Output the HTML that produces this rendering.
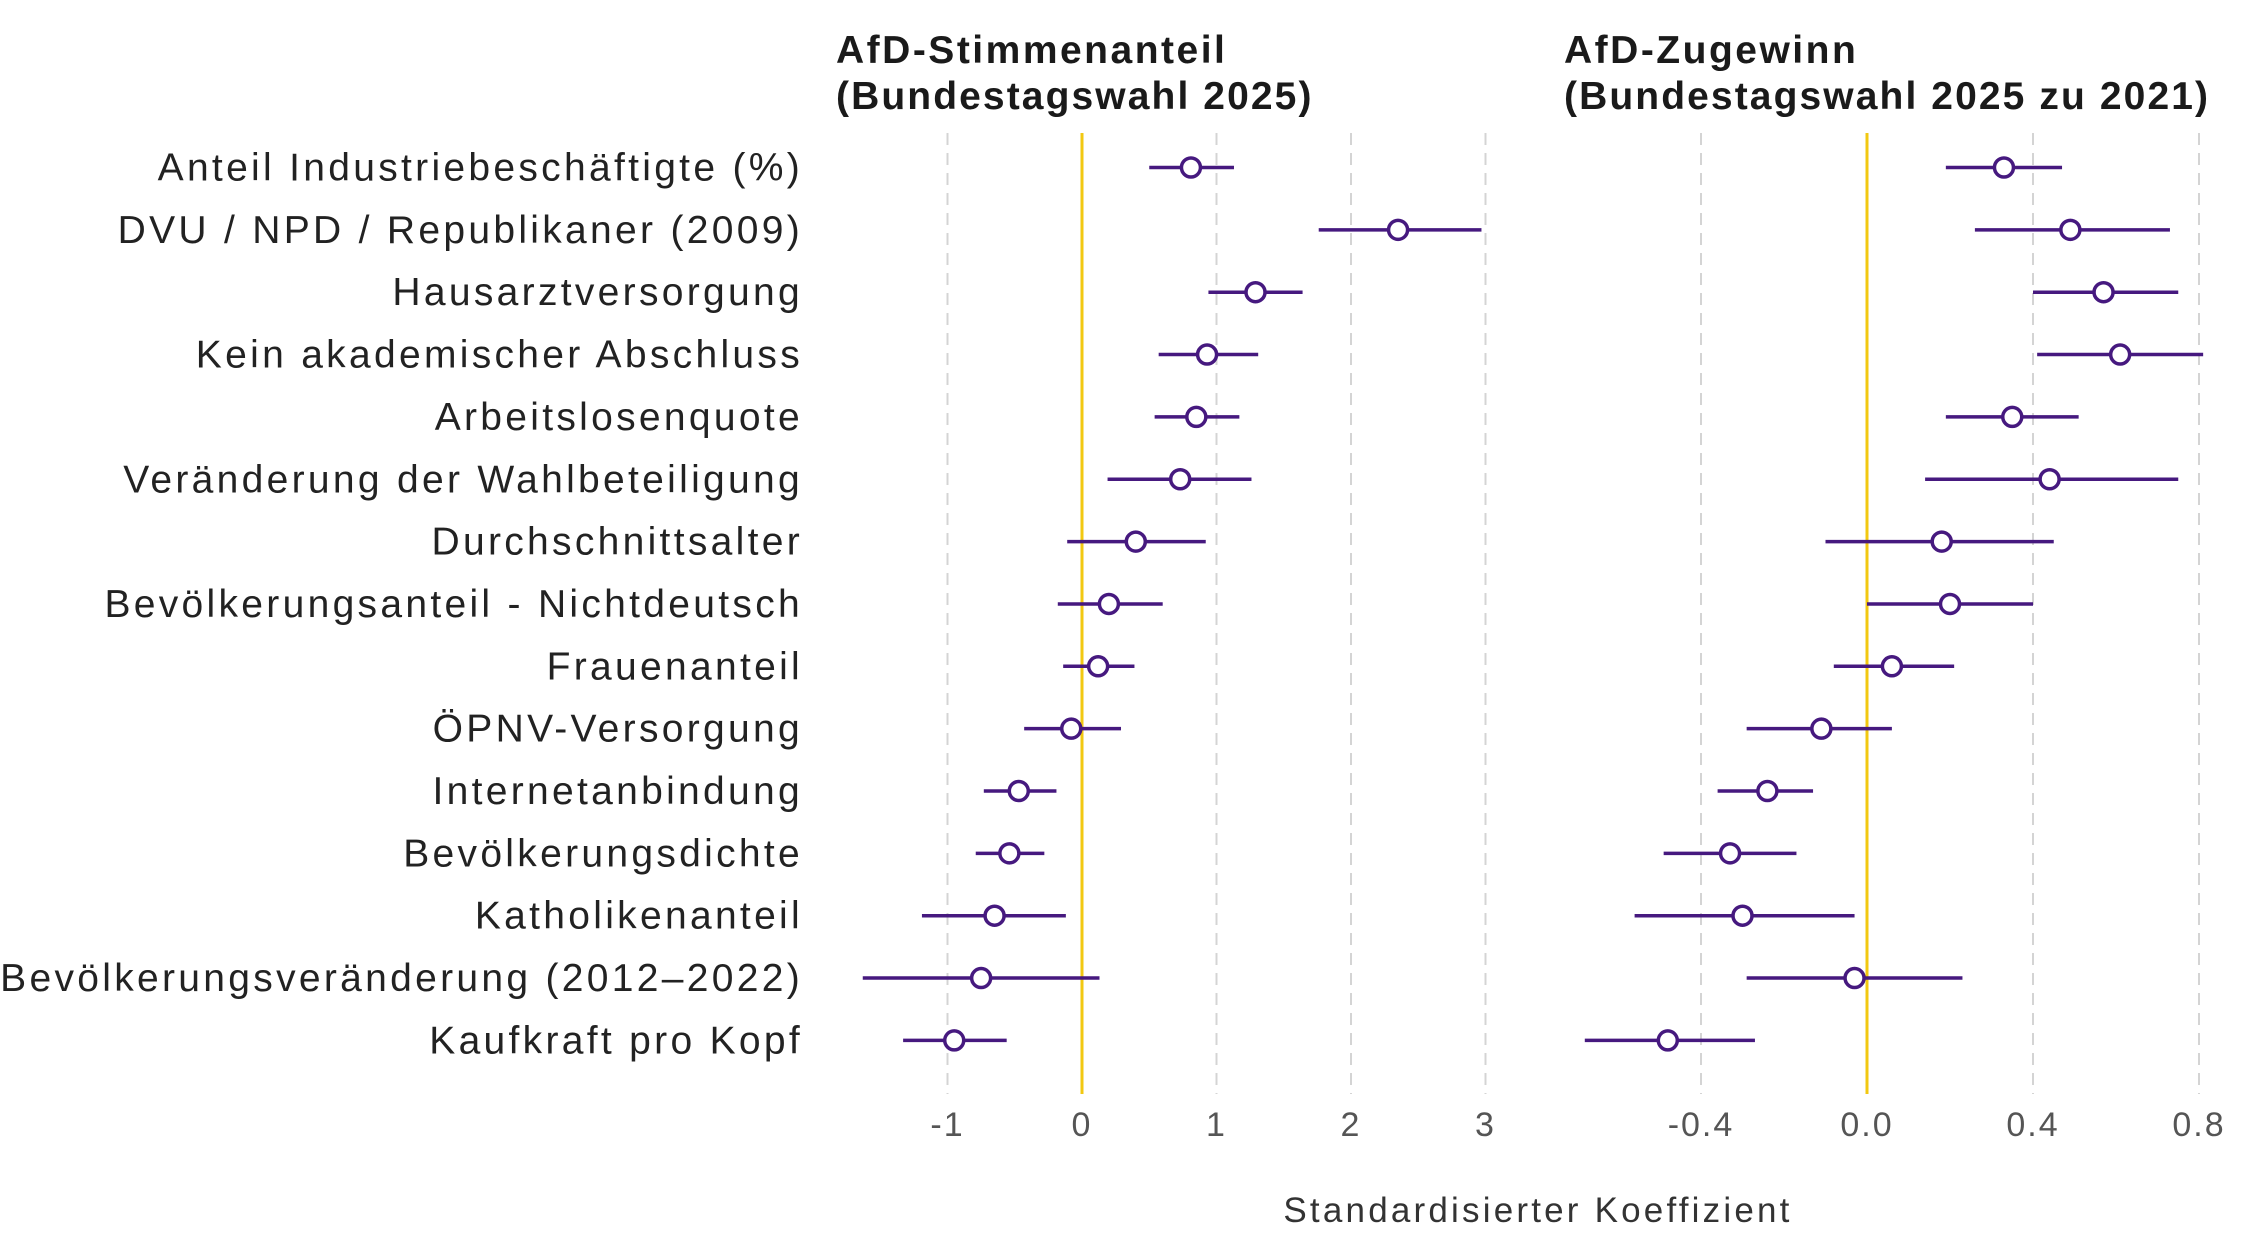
<!DOCTYPE html>
<html><head><meta charset="utf-8"><style>
html,body{margin:0;padding:0;background:#fff}
svg{display:block;font-family:"Liberation Sans",sans-serif}
</style></head><body>
<svg id="chart" width="2250" height="1250" viewBox="0 0 2250 1250">
<g id="grid"></g><g id="labels"></g><g id="marks"></g>
<text x="836" y="63" font-size="39" font-weight="bold" fill="#1a1a1a" letter-spacing="2.5">AfD-Stimmenanteil</text>
<text x="836" y="109" font-size="39" font-weight="bold" fill="#1a1a1a" letter-spacing="2.1">(Bundestagswahl 2025)</text>
<text x="1564" y="63" font-size="39" font-weight="bold" fill="#1a1a1a" letter-spacing="2.5">AfD-Zugewinn</text>
<text x="1564" y="109" font-size="39" font-weight="bold" fill="#1a1a1a" letter-spacing="2.1">(Bundestagswahl 2025 zu 2021)</text>
<text x="1538" y="1222" font-size="35" fill="#333" text-anchor="middle" letter-spacing="3.2">Standardisierter Koeffizient</text>
</svg>
<script>
const categories=["Anteil Industriebeschäftigte (%)","DVU / NPD / Republikaner (2009)","Hausarztversorgung","Kein akademischer Abschluss","Arbeitslosenquote","Veränderung der Wahlbeteiligung","Durchschnittsalter","Bevölkerungsanteil - Nichtdeutsch","Frauenanteil","ÖPNV-Versorgung","Internetanbindung","Bevölkerungsdichte","Katholikenanteil","Bevölkerungsveränderung (2012–2022)","Kaufkraft pro Kopf"];
const leftEst=[0.81,2.35,1.29,0.93,0.85,0.73,0.40,0.20,0.12,-0.08,-0.47,-0.54,-0.65,-0.75,-0.95];
const leftLo=[0.50,1.76,0.94,0.57,0.54,0.19,-0.11,-0.18,-0.14,-0.43,-0.73,-0.79,-1.19,-1.63,-1.33];
const leftHi=[1.13,2.97,1.64,1.31,1.17,1.26,0.92,0.60,0.39,0.29,-0.19,-0.28,-0.12,0.13,-0.56];
const rightEst=[0.33,0.49,0.57,0.61,0.35,0.44,0.18,0.20,0.06,-0.11,-0.24,-0.33,-0.30,-0.03,-0.48];
const rightLo=[0.19,0.26,0.40,0.41,0.19,0.14,-0.10,0.00,-0.08,-0.29,-0.36,-0.49,-0.56,-0.29,-0.68];
const rightHi=[0.47,0.73,0.75,0.81,0.51,0.75,0.45,0.40,0.21,0.06,-0.13,-0.17,-0.03,0.23,-0.27];
const leftTicks=[-1,0,1,2,3];
const leftTickLabels=["-1","0","1","2","3"];
const rightTicks=[-0.4,0,0.4,0.8];
const rightTickLabels=["-0.4","0.0","0.4","0.8"];

const NS="http://www.w3.org/2000/svg";
const xL=v=>1082+v*134.5;
const xR=v=>1867+v*415;
const yRow=i=>167.5+i*62.35;
const gTop=133,gBot=1094;
function mk(tag,attrs,parent,text){const e=document.createElementNS(NS,tag);for(const k in attrs)e.setAttribute(k,attrs[k]);if(text!==undefined)e.textContent=text;parent.appendChild(e);return e;}
const grid=document.getElementById('grid'),labels=document.getElementById('labels'),marks=document.getElementById('marks');
function axis(ticks,tl,sx,side){
  ticks.forEach((t,i)=>{
    const zero=t===0;
    const l=mk('line',{x1:sx(t),x2:sx(t),y1:gTop,y2:gBot,stroke:zero?'#f2c811':'#d4d4d4','stroke-width':zero?3:2,'stroke-dasharray':zero?'none':'12 8'},grid);
    
    
    const tx=mk('text',{x:sx(t),y:1136,'font-size':34,fill:'#555','text-anchor':'middle','letter-spacing':'2'},labels,tl[i]);
    
    
  });
}
axis(leftTicks,leftTickLabels,xL,'left');
axis(rightTicks,rightTickLabels,xR,'right');
categories.forEach((c,i)=>{
  const t=mk('text',{x:803,y:yRow(i)+13,'font-size':39,fill:'#222','text-anchor':'end','letter-spacing':'3.3'},labels,c);
  
  
});
function series(est,lo,hi,sx,side){
  est.forEach((v,i)=>{
    const y=yRow(i);
    const l=mk('line',{x1:sx(lo[i]),x2:sx(hi[i]),y1:y,y2:y,stroke:'#46197f','stroke-width':3.5},marks);
    
    
    const c=mk('circle',{cx:sx(v),cy:y,r:9.5,fill:'#fff',stroke:'#46197f','stroke-width':3.5},marks);
    
    
  });
}
series(leftEst,leftLo,leftHi,xL,'left');
series(rightEst,rightLo,rightHi,xR,'right');
</script>
</body></html>
